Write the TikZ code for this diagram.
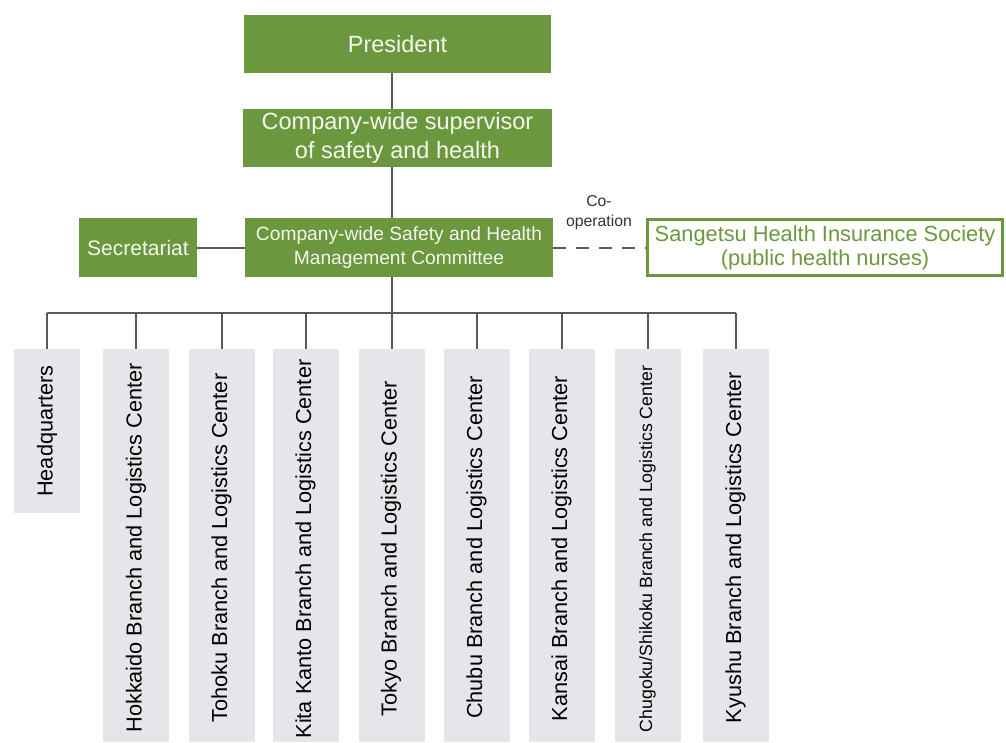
\documentclass[tikz,border=0pt]{standalone}
\usepackage{fontspec}
\setmainfont{Liberation Sans}
\definecolor{grn}{HTML}{6B983E}
\definecolor{txtlight}{HTML}{F4F6EC}
\definecolor{boxgray}{HTML}{E6E6EA}
\definecolor{linegray}{HTML}{595959}
\begin{document}
\begin{tikzpicture}[x=1pt,y=-1pt,
  greenbox/.style={fill=grn, text=txtlight, inner sep=0pt, align=center},
  outlinebox/.style={draw=grn, line width=3pt, fill=white, text=grn, inner sep=0pt, align=center},
  graybox/.style={fill=boxgray, inner sep=0pt, minimum width=66pt},
  vlabel/.style={rotate=90, inner sep=0pt, text=black, font=\fontsize{21.7}{26}\selectfont},
  conn/.style={draw=linegray, line width=2pt},
  dashconn/.style={draw=linegray, line width=2pt, dash pattern=on 13pt off 10pt}]
\useasboundingbox (0,0) rectangle (1006,742);
\fill[white] (0,0) rectangle (1006,742);

% top hierarchy
\node[greenbox, minimum width=307pt, minimum height=58pt, font=\fontsize{23.5}{27}\selectfont] (pres) at (397.5,44) {President};
\node[greenbox, minimum width=309pt, minimum height=58pt, font=\fontsize{23.5}{28.5}\selectfont] (sup) at (397.5,138) {Company-wide supervisor\\of safety and health};
\node[greenbox, minimum width=308pt, minimum height=59pt, font=\fontsize{19.2}{23.5}\selectfont] (comm) at (399,247.5) {Company-wide Safety and Health\\Management Committee};
\node[greenbox, minimum width=118pt, minimum height=59pt, font=\fontsize{21}{25}\selectfont] (sec) at (138,247.5) {Secretariat};
\node[outlinebox, minimum width=355pt, minimum height=56pt, font=\fontsize{21.8}{24}\selectfont] (sang) at (825,247.5) {Sangetsu Health Insurance Society\\(public health nurses)};
\node[inner sep=0pt, align=center, text=black!80, font=\fontsize{15.8}{20}\selectfont] (coop) at (599,213) {Co-\\operation};

% branches
\node[graybox, minimum height=164pt] (hq) at (47,431) {};
\node[vlabel] (hq-t) at (hq.center) {Headquarters};
\node[graybox, minimum height=393pt] (hok) at (136,545.5) {};
\node[vlabel] (hok-t) at (136,548) {Hokkaido Branch and Logistics Center};
\node[graybox, minimum height=393pt] (toh) at (221.5,545.5) {};
\node[vlabel] (toh-t) at (221.5,548) {Tohoku Branch and Logistics Center};
\node[graybox, minimum height=393pt] (kit) at (305.5,545.5) {};
\node[vlabel] (kit-t) at (305.5,549) {Kita Kanto Branch and Logistics Center};
\node[graybox, minimum height=393pt] (tok) at (392,545.5) {};
\node[vlabel] (tok-t) at (391,548.5) {Tokyo Branch and Logistics Center};
\node[graybox, minimum height=393pt] (chb) at (476.5,545.5) {};
\node[vlabel] (chb-t) at (476.5,547.5) {Chubu Branch and Logistics Center};
\node[graybox, minimum height=393pt] (kns) at (561.5,545.5) {};
\node[vlabel] (kns-t) at (561.5,548.5) {Kansai Branch and Logistics Center};
\node[graybox, minimum height=393pt] (chg) at (647.5,545.5) {};
\node[vlabel, font=\fontsize{17.7}{21}\selectfont] (chg-t) at (647.5,549) {Chugoku/Shikoku Branch and Logistics Center};
\node[graybox, minimum height=393pt] (kyu) at (735.5,545.5) {};
\node[vlabel] (kyu-t) at (735.5,547.5) {Kyushu Branch and Logistics Center};

% connectors
\coordinate (spine) at (392,0);
\coordinate (bus) at (392,313);
\draw[conn] (pres.south -| spine) -- (sup.north -| spine);
\draw[conn] (sup.south -| spine) -- (comm.north -| spine);
\draw[conn] (comm.south -| spine) -- (tok.north);
\draw[conn] (sec.east) -- (comm.west);
\draw[dashconn] (comm.east |- sang.west) -- (sang.west);
\draw[conn] (bus -| hq.north) -- (bus -| kyu.north);
\foreach \b in {hq,hok,toh,kit,chb,kns,chg,kyu}{
  \draw[conn] (bus -| \b.north) -- (\b.north);
}
\end{tikzpicture}
\end{document}
